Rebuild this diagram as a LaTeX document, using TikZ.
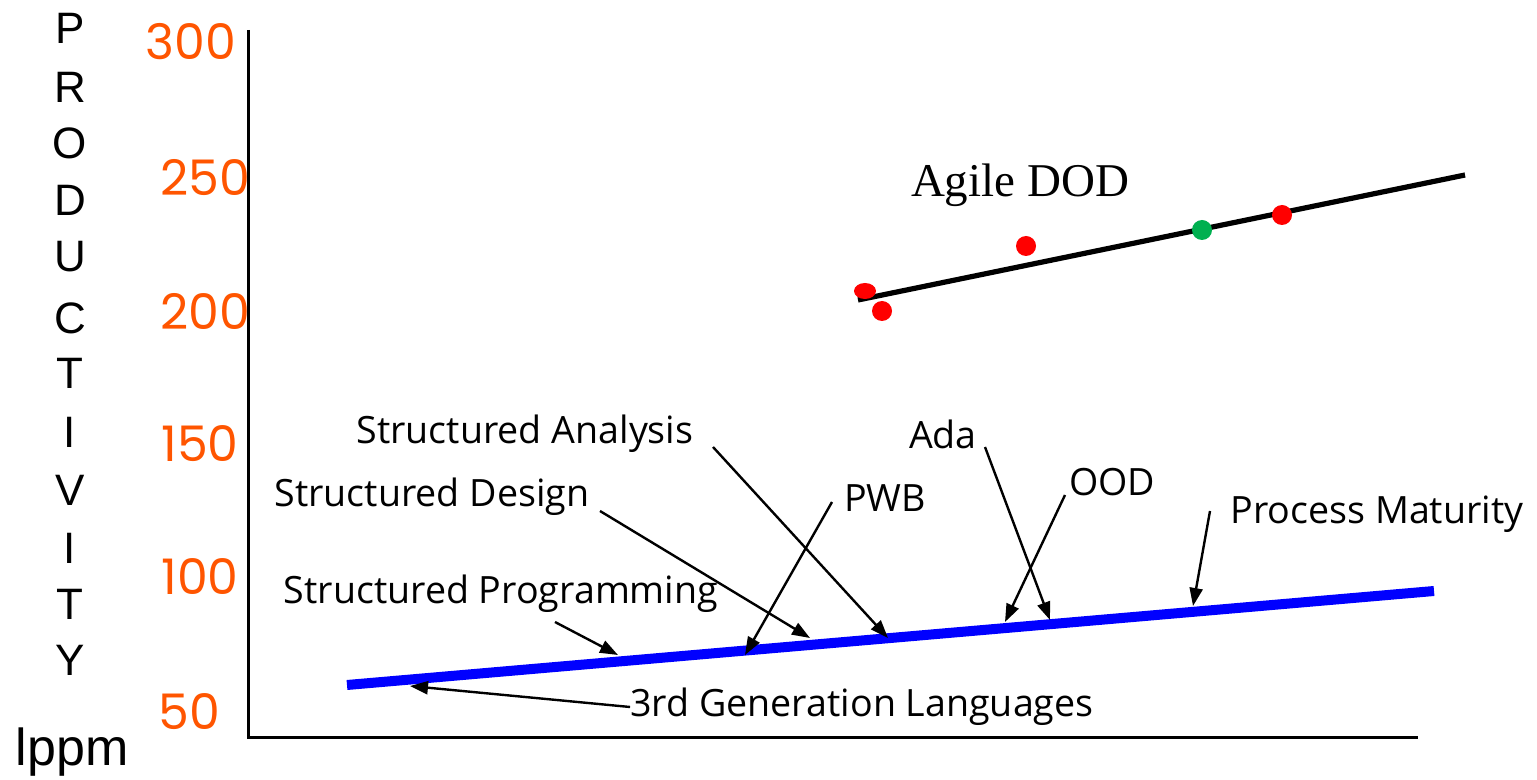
\documentclass[tikz,border=0pt]{standalone}
\usepackage{fontspec}
\setmainfont{Liberation Sans}
\newfontfamily\timesfont{Liberation Serif}
\newfontfamily\labelfont{Open Sans}
\newfontfamily\tickfont{Poppins}
\usetikzlibrary{arrows.meta}
\definecolor{tickorange}{RGB}{255,85,0}
\definecolor{dotred}{RGB}{255,0,0}
\definecolor{dotgreen}{RGB}{0,176,80}
\tikzset{
  axisline/.style={line width=1.5pt, black},
  ticklabel/.style={text=tickorange, font=\tickfont\fontsize{24.5}{26}\selectfont, inner sep=0pt},
  vletter/.style={font=\fontsize{22}{24}\selectfont, inner sep=0pt},
  eralabel/.style={font=\labelfont\fontsize{18.8}{21}\selectfont, inner sep=0pt},
  pointer/.style={line width=1.2pt, -{Triangle[length=9pt,width=6.5pt]}},
  dot/.style={fill=dotred, draw=none},
}
\begin{document}
\begin{tikzpicture}[x=0.5pt,y=-0.5pt]
\useasboundingbox (0,0) rectangle (1537,780);

% axes
\draw[axisline] (248,30) -- (248,737) -- (1418,737);

% vertical axis title
\foreach \ch/\yy in {P/28,R/87,O/143,D/200,U/257,C/318,T/373,I/432,V/490,I/548,T/604,Y/660}
  \node[vletter] at (70,\yy) {\ch};
\node[font=\fontsize{26}{28}\selectfont, inner sep=0pt] (unit) at (72,752) {lppm};

% tick values
\node[ticklabel] (t300) at (191,42) {300};
\node[ticklabel] (t250) at (205,178) {250};
\node[ticklabel] (t200) at (205,311) {200};
\node[ticklabel] (t150) at (200,444) {150};
\node[ticklabel] (t100) at (200,577) {100};
\node[ticklabel] (t50)  at (189,712) {50};

% agile trend with data points
\coordinate (ag1) at (858,300);
\coordinate (ag2) at (1465,175);
\draw[line width=2.6pt, black] (ag1) -- (ag2);
\fill[dot] (865,291) ellipse [x radius=11, y radius=8];
\fill[dot] (882,311) circle [radius=10];
\fill[dot] (1026,246) circle [radius=10];
\fill[dot] (1282,215) circle [radius=10];
\fill[dotgreen] (1202,230) circle [radius=10];
\node[font=\timesfont\fontsize{23.5}{25}\selectfont, inner sep=0pt] (agile) at (1020,185) {Agile DOD};

% conventional trend
\coordinate (tr1) at (347,685);
\coordinate (tr2) at (1434,591);
\draw[line width=5pt, blue] (tr1) -- (tr2);

% labels
\node[eralabel] (sa)  at (525,434) {Structured Analysis};
\node[eralabel] (sd)  at (432,497) {Structured Design};
\node[eralabel] (sp)  at (501,594) {Structured Programming};
\node[eralabel] (gl)  at (862,707) {3rd Generation Languages};
\node[eralabel] (pwb) at (885,498) {PWB};
\node[eralabel] (ada) at (943,434) {Ada};
\node[eralabel] (ood) at (1112,482) {OOD};
\node[eralabel] (pm)  at (1377,514) {Process Maturity};

% pointer start and tip points
\coordinate (sa-a) at (713,447);  \coordinate (sa-b) at (888,638);
\coordinate (sd-a) at (600,511);  \coordinate (sd-b) at (810,638);
\coordinate (sp-a) at (555,622);  \coordinate (sp-b) at (618,655);
\coordinate (gl-b) at (410,686);
\coordinate (pwb-a) at (832,502); \coordinate (pwb-b) at (745,655);
\coordinate (ada-a) at (985,447); \coordinate (ada-b) at (1050,620);
\coordinate (ood-a) at (1065,495); \coordinate (ood-b) at (1005,622);
\coordinate (pm-a) at (1210,511); \coordinate (pm-b) at (1193,606);

\draw[pointer] (sa-a) -- (sa-b);
\draw[pointer] (sd-a) -- (sd-b);
\draw[pointer] (sp-a) -- (sp-b);
\draw[pointer] (gl.west) -- (gl-b);
\draw[pointer] (pwb-a) -- (pwb-b);
\draw[pointer] (ada-a) -- (ada-b);
\draw[pointer] (ood-a) -- (ood-b);
\draw[pointer] (pm-a) -- (pm-b);
\end{tikzpicture}
\end{document}
